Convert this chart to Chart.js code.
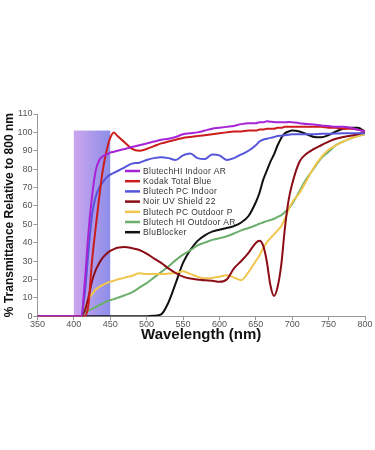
<!DOCTYPE html>
<html>
<head>
<meta charset="utf-8">
<script src="https://cdn.jsdelivr.net/npm/chart.js@4.4.0/dist/chart.umd.min.js"></script>
<style>
  html, body { margin: 0; padding: 0; background: #fff; }
  #wrap { position: relative; width: 375px; height: 450px; }
</style>
</head>
<body>
<div id="wrap"><canvas id="chartTrans"></canvas></div>
<script>
// wavelengths (nm) shared by all series
var wavelengths = [350, 400, 410, 415, 420, 425, 430, 435, 440, 445, 450, 455, 460,
    470, 480, 490, 500, 510, 520, 530, 540, 550, 560, 570, 580, 590, 600, 610, 620, 630, 640, 650,
    655, 660, 665, 670, 675, 680, 685, 690, 695, 700,
    710, 720, 730, 740, 750, 760, 770, 780, 790, 800]

var hiIndoorAR = [0, 0, 0, 18, 45, 65, 79, 85, 87, 88, 89, 89.5, 90,
    91, 92, 93, 94, 95, 96, 96.5, 97.5, 99, 99.5, 100, 101, 102, 102.5, 103, 103.5, 104.5, 105, 105,
    105.5, 105.5, 106, 105.8, 105.6, 105.5, 105.5, 105.5, 105.6, 105.5,
    105, 104.5, 104.3, 103.8, 103.5, 103, 103, 102.5, 101.5, 100.5]

var kodakTotalBlue = [0, 0, 0, 0, 6, 30, 48, 65, 80, 90, 97, 100, 98,
    94.5, 91, 90, 91, 92.5, 94, 95, 96, 97, 97.5, 98, 98.5, 99, 99.5, 100, 100.5, 100.5, 101, 101,
    101.5, 101.5, 102, 102, 102, 102.5, 102.5, 103, 103, 103,
    103, 103, 103, 103, 102.5, 102.5, 102, 102, 101.5, 100.5]

var pcIndoor = [0, 0, 0, 12, 35, 55, 65, 70, 73, 75.5, 77, 78, 79,
    81, 83, 83.5, 85, 86, 86.5, 86, 85, 87.5, 88.5, 86, 85.5, 88, 87.5, 85, 86, 88, 90, 93,
    95, 96, 96.5, 97, 97.5, 98, 98.2, 98.5, 98.7, 99,
    99, 99, 99, 99.2, 99.3, 99.4, 99.5, 99.5, 99.5, 99.5]

var noirUV22 = [0, 0, 0, 3, 10, 19, 25, 29, 32, 34, 35.5, 36.5, 37.2,
    37.7, 37, 36, 34, 31.5, 29, 26, 23.5, 21.5, 20.5, 20, 19.5, 19.3, 18.7, 20, 26, 30, 34.5, 39.8,
    41, 38.5, 30, 17, 11, 16, 28, 48, 63, 72,
    84, 88.5, 91, 93, 95, 96.5, 97.5, 98.2, 99, 100]

var pcOutdoorP = [0, 0, 0, 4, 9, 12, 14.5, 16, 17, 18, 18.7, 19.3, 20,
    21, 22, 23.3, 23, 23, 23, 23.2, 23.5, 24.5, 23, 21.5, 20.7, 20.8, 21.5, 22.3, 21, 19.6, 24, 30,
    33, 37, 40, 42.5, 44.5, 46.7, 49, 53, 58, 62,
    67, 74, 81, 86.5, 90.5, 93, 95, 96.7, 98, 99]

var hiOutdoorAR = [0, 0, 0, 2, 3, 4, 5, 6, 7, 8, 8.7, 9.3, 10,
    11.4, 13, 15.5, 18, 21, 24, 27, 30.5, 33.5, 35.8, 38.5, 40, 41.5, 42.4, 43.5, 45, 46.7, 48, 49.5,
    50.3, 51, 51.7, 52.3, 53, 54, 55, 56.7, 58.5, 61,
    68, 75, 80.5, 86, 89.5, 93, 95, 96.7, 98, 99]

var bluBlocker = [0, 0, 0, 0, 0, 0, 0, 0, 0, 0, 0, 0, 0,
    0, 0, 0, 0, 0.2, 1, 7.5, 18, 29, 36, 41, 44, 46, 47, 48, 49, 51, 54.5, 62,
    67, 74, 79, 84, 88, 93, 97, 99.5, 100.5, 101,
    100.5, 99, 97.5, 97.3, 98.5, 100.5, 102, 102.5, 102.5, 100.5]

var seriesNames = ['BlutechHI Indoor AR', 'Kodak Total Blue', 'Blutech PC Indoor', 'Noir UV Shield 22',
    'Blutech PC Outdoor P', 'Blutech HI Outdoor AR', 'BluBlocker']
var seriesColors = ['#a724d6', '#cc1c1c', '#5656dc', '#8c0c16', '#f0c64e', '#6cae6c', '#111111']

// blue-light band shaded behind the curves
var shadeFrom = 400
var shadeTo = 450
var shadeTop = 101

var xTicks = [350, 400, 450, 500, 550, 600, 650, 700, 750, 800]

function toPoints(values) {
    return values.map(function (v, i) { return { x: wavelengths[i], y: v } })
}

var allSeries = [hiIndoorAR, kodakTotalBlue, pcIndoor, noirUV22, pcOutdoorP, hiOutdoorAR, bluBlocker]
var datasets = allSeries.map(function (vals, i) {
    return {
        label: seriesNames[i],
        data: toPoints(vals),
        borderColor: seriesColors[i],
        backgroundColor: seriesColors[i],
        borderWidth: 2,
        pointRadius: 0,
        fill: false,
        cubicInterpolationMode: 'monotone'
    }
})

var fontFamily = '"Liberation Sans", Arial, sans-serif'

var shadePlugin = {
    id: 'shade',
    beforeDatasetsDraw: function (chart) {
        var ctx = chart.ctx
        var x = chart.scales.x, y = chart.scales.y
        var x1 = x.getPixelForValue(shadeFrom), x2 = x.getPixelForValue(shadeTo)
        var y1 = y.getPixelForValue(shadeTop), y2 = y.getPixelForValue(0)
        var grad = ctx.createLinearGradient(x1, 0, x2, 0)
        grad.addColorStop(0, '#cba6ee')
        grad.addColorStop(1, '#8d8ee8')
        ctx.save()
        ctx.fillStyle = grad
        ctx.fillRect(x1, y1, x2 - x1, y2 - y1)
        ctx.restore()
    }
}

// legend sits inside the plot, drawn by hand
var legendPlugin = {
    id: 'innerLegend',
    afterDraw: function (chart) {
        var ctx = chart.ctx
        var area = chart.chartArea
        var lx = 125
        var ly = area.top + 57
        ctx.save()
        ctx.font = '8.5px ' + fontFamily
        ctx.textBaseline = 'middle'
        if ('letterSpacing' in ctx) ctx.letterSpacing = '0.3px'
        chart.data.datasets.forEach(function (ds, i) {
            var yy = ly + i * 10.2
            ctx.strokeStyle = ds.borderColor
            ctx.lineWidth = 2.5
            ctx.beginPath()
            ctx.moveTo(lx, yy)
            ctx.lineTo(lx + 15, yy)
            ctx.stroke()
            ctx.fillStyle = '#333'
            ctx.fillText(ds.label, lx + 18, yy + 0.5)
        })
        ctx.restore()
    }
}

new Chart(document.getElementById('chartTrans').getContext('2d'), {
    type: 'line',
    data: { datasets: datasets },
    options: {
        responsive: true,
        maintainAspectRatio: false,
        animation: false,
        layout: { padding: { top: 114, bottom: 106, left: 2, right: 10 } },
        plugins: {
            legend: { display: false },
            tooltip: { enabled: false }
        },
        scales: {
            x: {
                type: 'linear',
                min: 350,
                max: 800,
                afterBuildTicks: function (axis) {
                    axis.ticks = xTicks.map(function (v) { return { value: v } })
                },
                ticks: { color: '#555', font: { size: 9, family: fontFamily }, maxRotation: 0, padding: -1 },
                grid: { drawOnChartArea: false, drawTicks: true, tickLength: 4, color: '#999' },
                border: { color: '#999' },
                title: {
                    display: true,
                    text: 'Wavelength (nm)',
                    color: '#111',
                    font: { size: 15, weight: 'bold', family: fontFamily },
                    padding: { top: -3, bottom: 0 }
                }
            },
            y: {
                min: 0,
                max: 110,
                ticks: { stepSize: 10, color: '#555', font: { size: 9, family: fontFamily }, padding: 1 },
                grid: { drawOnChartArea: false, drawTicks: true, tickLength: 4, color: '#999' },
                border: { color: '#999' },
                title: {
                    display: true,
                    text: '% Transmittance Relative to 800 nm',
                    color: '#111',
                    font: { size: 12, weight: 'bold', family: fontFamily },
                    padding: { top: 0, bottom: 0 }
                }
            }
        }
    },
    plugins: [shadePlugin, legendPlugin]
})
</script>
</body>
</html>
